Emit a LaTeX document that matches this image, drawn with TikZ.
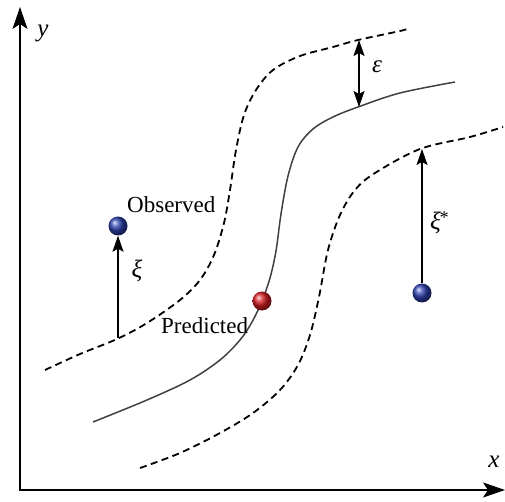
\documentclass[tikz,border=0pt]{standalone}
\usepackage{fontspec}
\setmainfont{Liberation Serif}
\usetikzlibrary{arrows.meta}
\definecolor{ballblue}{RGB}{45,65,175}
\definecolor{ballred}{RGB}{215,30,35}
\begin{document}
\begin{tikzpicture}[x=1pt,y=-1pt,
  axis/.style={line width=1.8pt,-{Stealth[length=22pt,width=15pt,inset=5pt]}},
  curve/.style={line width=1.5pt,draw=black!75},
  dcurve/.style={line width=1.8pt,dash pattern=on 7pt off 4.5pt},
  gap/.style={line width=1.3pt,draw=black},
  tip/.style={-{Stealth[length=16pt,width=11pt,inset=3pt]}},
  ball/.style={circle,minimum size=19pt,inner sep=0pt,shading=ball},
  lbl/.style={font=\fontsize{23}{26}\selectfont,inner sep=0pt},
  glbl/.style={font=\fontsize{25}{26}\selectfont\itshape,inner sep=0pt}]
\useasboundingbox (0,0) rectangle (505,502);
\coordinate (O) at (20,490);
\coordinate (Ytop) at (20,7);
\coordinate (Xend) at (505,490);
\draw[axis] (O) -- (Ytop);
\draw[axis] ([xshift=-1pt]O) -- (Xend);
\node[glbl] (ylab) at (43,33) {y};
\node[glbl] (xlab) at (494,462) {x};
% solid predicted curve
\draw[curve] plot[smooth,tension=0.55] coordinates {(93,422) (147,400) (190,380) (220,360) (240,340) (252,322) (262,301) (270,278) (276,251) (281,214) (288,176) (298,147) (313,129) (333,117) (358,107) (400,93) (455,82)};
% upper dashed
\draw[dcurve] plot[smooth,tension=0.55] coordinates {(45,370) (80,354) (117,339) (147,323) (180,300) (200,280) (214,255) (224,223) (230,190) (236,150) (244,115) (256,90) (273,70) (300,56) (333,47) (358,40) (400,31) (410,28)};
% lower dashed
\draw[dcurve] plot[smooth,tension=0.55] coordinates {(140,468) (180,453) (220,433) (253,413) (280,390) (298,365) (310,335) (319,297) (328,250) (340,215) (355,190) (375,173) (420,149) (470,137) (503,127)};
% epsilon arrow
\coordinate (eTop) at (359,40);
\coordinate (eBot) at (359,107);
\draw[gap,{Stealth[length=16pt,width=11pt,inset=3pt]}-{Stealth[length=16pt,width=11pt,inset=3pt]}] (eTop) -- (eBot);
\node[glbl] (eps) at (377,67) {ε};
% observed point
\node[ball,ball color=ballblue] (obs) at (118,226) {};
\coordinate (xiBase) at (118,338);
\draw[gap,tip] (xiBase) -- (obs.south);
\node[glbl] (xi) at (137,271) {ξ};
\node[lbl,anchor=base west] (obslab) at (127,213) {Observed};
% predicted point
\node[ball,ball color=ballred] (pred) at (262,301) {};
\node[lbl,anchor=base west] (predlab) at (161,333) {Predicted};
% second observed point
\node[ball,ball color=ballblue] (obs2) at (422,293) {};
\coordinate (xisTop) at (422,149);
\draw[gap,tip] (obs2.north) -- (xisTop);
\node[glbl,anchor=west] (xis) at (430,223) {ξ\kern-2pt\raisebox{6pt}{\fontsize{18}{18}\selectfont*}};
\end{tikzpicture}
\end{document}
